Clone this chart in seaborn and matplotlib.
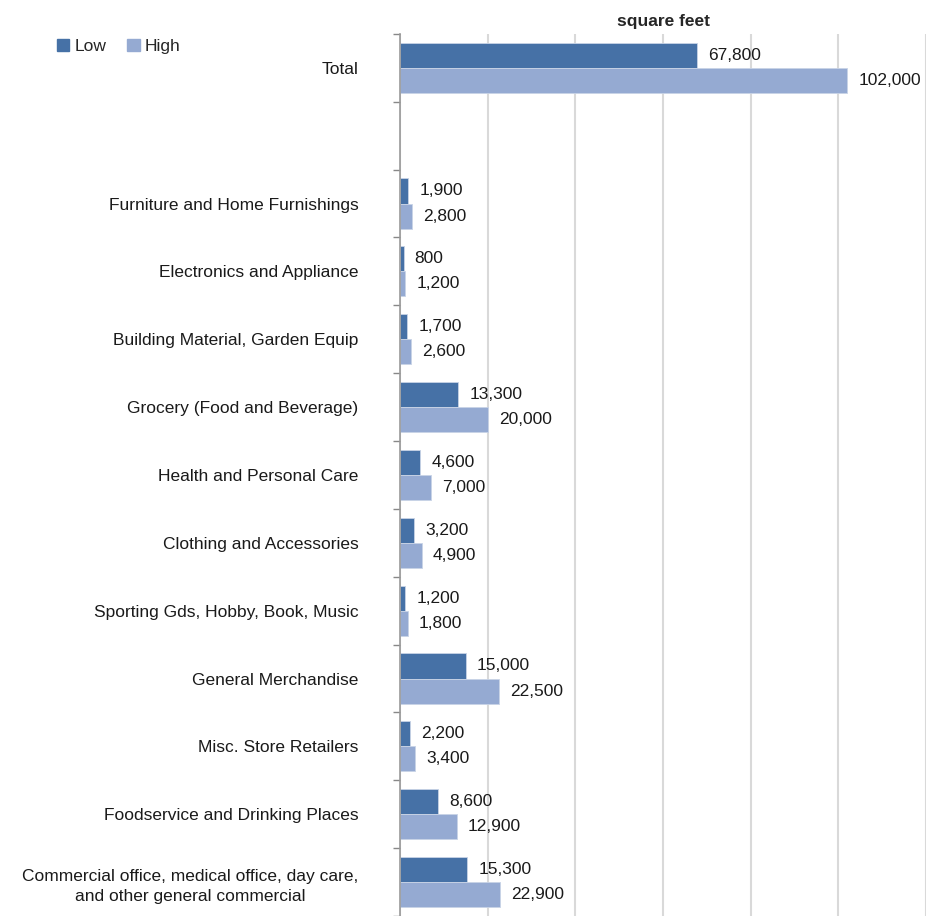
# Retail space demand, low vs high scenario (square feet)

import pandas as pd
import numpy as np
import matplotlib.pyplot as plt
import seaborn as sns
from matplotlib.patches import Patch

# DATA:
categories = ['Total', ' ', 'Furniture and Home Furnishings', 'Electronics and Appliance',
              'Building Material, Garden Equip', 'Grocery (Food and Beverage)',
              'Health and Personal Care', 'Clothing and Accessories',
              'Sporting Gds, Hobby, Book, Music', 'General Merchandise',
              'Misc. Store Retailers', 'Foodservice and Drinking Places',
              'Commercial office, medical office, day care,\nand other general commercial']
low = [67800, np.nan, 1900, 800, 1700, 13300, 4600, 3200, 1200, 15000, 2200, 8600, 15300]
high = [102000, np.nan, 2800, 1200, 2600, 20000, 7000, 4900, 1800, 22500, 3400, 12900, 22900]

df = pd.DataFrame({'category': categories * 2,
                   'scenario': ['Low'] * len(categories) + ['High'] * len(categories),
                   'sqft': low + high})

colors = {'Low': '#4671A6', 'High': '#95AAD2'}

sns.set_theme(style='white')
plt.rcParams['font.family'] = ['Liberation Sans', 'DejaVu Sans']

fig = plt.figure(figsize=(9.26, 9.16), dpi=100)
ax = fig.add_axes([0.432, 0.0, 0.568, 0.963])

sns.barplot(data=df, y='category', x='sqft', hue='scenario', order=categories,
            hue_order=['Low', 'High'], orient='h', width=0.74, saturation=1,
            palette=colors, edgecolor='#c8d3e6', linewidth=0.6, ax=ax, legend=False)

# value labels
for cont in ax.containers:
    ax.bar_label(cont, labels=[f'{w:,.0f}' for w in cont.datavalues], padding=8,
                 fontsize=12.5, color='#1a1a1a')

ax.set_xlim(0, 120000)
ax.set_ylim(len(categories) - 0.5, -0.5)
ax.set_xticks(np.arange(0, 120001, 20000))
ax.set_xticklabels([])
ax.tick_params(axis='x', length=0)
ax.xaxis.grid(True, color='#d9d9d9', linewidth=1.5)
ax.set_axisbelow(True)

# category labels
ax.tick_params(axis='y', which='major', length=0, pad=30, labelsize=12.5, labelcolor='#1a1a1a')
ax.set_yticks(np.arange(-0.5, len(categories), 1), minor=True)
ax.tick_params(axis='y', which='minor', left=True, length=5, width=1, color='#888888')
for lab in ax.get_yticklabels():
    lab.set_multialignment('center')
    lab.set_linespacing(1.45)

for s in ['top', 'right', 'bottom']:
    ax.spines[s].set_visible(False)
ax.spines['left'].set_color('#999999')
ax.spines['left'].set_linewidth(1.2)

ax.set_xlabel('')
ax.set_ylabel('')
ax.set_title('square feet', fontsize=12.5, fontweight='bold', pad=6)

# legend
handles = [Patch(color=colors['Low'], label='Low'), Patch(color=colors['High'], label='High')]
fig.legend(handles=handles, loc='upper left', bbox_to_anchor=(0.045, 0.975), ncol=2,
           frameon=False, handlelength=0.7, handleheight=0.7, handletextpad=0.3,
           columnspacing=1.2, fontsize=12.5)

plt.savefig('out.png', dpi=100)
plt.close()
